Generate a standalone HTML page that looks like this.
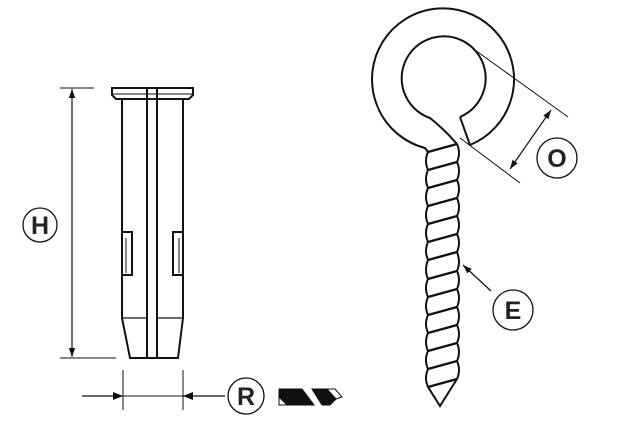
<!DOCTYPE html>
<html><head><meta charset="utf-8"><style>
html,body{margin:0;padding:0;background:#fff;}
svg{display:block;}
text{font-family:"Liberation Sans",sans-serif;font-weight:bold;fill:#222;}
</style></head><body>
<svg width="619" height="426" viewBox="0 0 619 426" xmlns="http://www.w3.org/2000/svg">
<defs>
<marker id="ah" viewBox="0 0 10 10" refX="10" refY="5" markerWidth="9" markerHeight="9" markerUnits="userSpaceOnUse" orient="auto-start-reverse"><path d="M0,1.5 L10,5 L0,8.5 z" fill="#111"/></marker>
<marker id="ah2" viewBox="0 0 10 10" refX="10" refY="5" markerWidth="12" markerHeight="10" markerUnits="userSpaceOnUse" orient="auto"><path d="M0,1 L10,5 L0,9 z" fill="#111"/></marker>
</defs>
<g stroke="#111" fill="none">
<line x1="60" y1="88" x2="94" y2="88" stroke-width="1"/>
<line x1="60" y1="358" x2="116" y2="358" stroke-width="1"/>
<line x1="72" y1="89" x2="72" y2="357" stroke-width="1.2" marker-start="url(#ah)" marker-end="url(#ah)"/>
<circle cx="40" cy="225" r="17" stroke-width="1.3"/>
<g stroke-width="2">
<path d="M112,88 L193,88 L193,95 L189,99 L116,99 L112,95 Z"/>
<line x1="113" y1="94" x2="192" y2="94" stroke-width="1"/>
<path d="M122,99 L122,232 M183,99 L183,232"/>
<path d="M122,275 L122,318 L130,358 L178,358 L183,318 L183,275"/>
<line x1="122" y1="318" x2="147" y2="318" stroke-width="1.3"/>
<line x1="157" y1="318" x2="183" y2="318" stroke-width="1.3"/>
<path d="M147,88 L147,358 M157,88 L157,358"/>
<path d="M122,232 L132,232 L132,275 L122,275 Z"/>
<path d="M183,232 L173,232 L173,275 L183,275 Z"/>
<line x1="126" y1="238" x2="126" y2="273" stroke-width="1"/>
<line x1="179" y1="238" x2="179" y2="273" stroke-width="1"/>
</g>
<line x1="123" y1="370" x2="123" y2="410" stroke-width="1"/>
<line x1="183" y1="370" x2="183" y2="410" stroke-width="1"/>
<line x1="82" y1="396" x2="123" y2="396" stroke-width="1.2" marker-end="url(#ah2)"/>
<line x1="225" y1="396" x2="183" y2="396" stroke-width="1.2" marker-end="url(#ah2)"/>
<line x1="123" y1="396" x2="183" y2="396" stroke-width="1"/>
<circle cx="246" cy="396" r="18" stroke-width="1.3"/>
<g stroke-width="1">
<path d="M279,389 L302,389 L314,405 L287,405 L279,397 Z" fill="#111"/>
<path d="M279,397 L287,405 L279,405 Z" fill="#fff"/>
<path d="M312,389 L327,389 L336,399 L330,405 L322,405 Z" fill="#111"/>
<path d="M327,389 L335,389 L342,397 L336,399 Z" fill="#fff"/>
</g>
<g stroke-width="2">
<path d="M470,145 A71,71 0 1 0 425,148 L428,152"/>
<path d="M460,117 A42,42 0 1 0 430,118 Q445,130 457,144"/>
<path d="M460,117 L470,145"/>
<path d="M428,152 Q424,161 428,170 Q424,179 428,188 Q424,197 428,206 Q424,215 428,224 Q424,233 428,242 Q424,251 428,260 Q424,270 428,279 Q424,288 428,297 Q424,306 428,315 Q424,324 428,333 Q424,342 428,351 Q424,360 428,369 Q424,378 428,387 L440,406 L457,379"/>
<path d="M457,144 Q461,153 457,162 Q461,171 457,180 Q461,189 457,198 Q461,207 457,216 Q461,225 457,234 Q461,243 457,252 Q461,262 457,271 Q461,280 457,289 Q461,298 457,307 Q461,316 457,325 Q461,334 457,343 Q461,352 457,361 Q461,370 457,379"/>
<path stroke-width="2.4" d="M428,152 L457,144 M428,170 L457,162 M428,188 L457,180 M428,206 L457,198 M428,224 L457,216 M428,242 L457,234 M428,260 L457,252 M428,279 L457,271 M428,297 L457,289 M428,315 L457,307 M428,333 L457,325 M428,351 L457,343 M428,369 L457,361 M428,387 L457,379"/>
</g>
<line x1="475" y1="50" x2="568" y2="117" stroke-width="1"/>
<line x1="460" y1="138" x2="520" y2="183" stroke-width="1"/>
<line x1="510" y1="169" x2="551" y2="110" stroke-width="1.2" marker-start="url(#ah)" marker-end="url(#ah)"/>
<circle cx="557" cy="158" r="20" stroke-width="1.3"/>
<line x1="491" y1="291" x2="463" y2="265" stroke-width="1.2" marker-end="url(#ah)"/>
<circle cx="513" cy="310" r="20" stroke-width="1.3"/>
</g>
<text x="40" y="234" font-size="25" text-anchor="middle">H</text>
<text x="246" y="405" font-size="25" text-anchor="middle">R</text>
<text x="557" y="167" font-size="25" text-anchor="middle">O</text>
<text x="513" y="319" font-size="25" text-anchor="middle">E</text>
</svg>
</body></html>
